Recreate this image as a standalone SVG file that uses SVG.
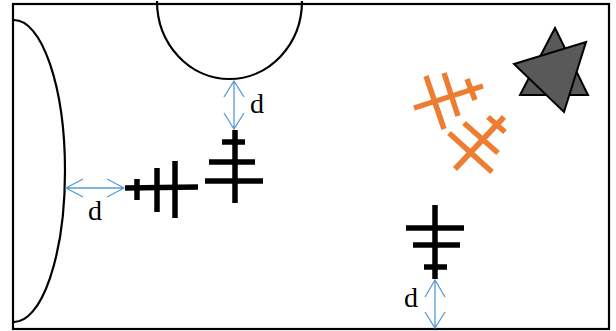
<svg xmlns="http://www.w3.org/2000/svg" width="616" height="331" viewBox="0 0 616 331">
<style>
.frame{fill:none;stroke:#000;stroke-width:2.2}
.bar{stroke:#000;stroke-width:5.5;stroke-linecap:butt}
.obar{stroke:#ED7D31;stroke-width:5.5;stroke-linecap:butt}
.dim{fill:none;stroke:#5B9BD5;stroke-width:1.3}
.tri{fill:#595959;stroke:#000;stroke-width:2;stroke-linejoin:miter}
.lbl{font-family:"Liberation Serif",serif;font-size:28px;fill:#000}
</style>
<rect width="616" height="331" fill="#fff"/>
<g id="field">
<rect class="frame" x="13" y="4" width="596" height="325"/>
<path class="frame" d="M14,20 A51,151 0 0 1 14,322"/>
<path class="frame" d="M157,1 A72.5,78 0 0 0 302,1"/>
</g>
<g id="connectors">
<g id="dim-top">
<path class="dim" d="M234,81 L234,129 M224,97 L234,81 L244,97 M224,113 L234,129 L244,113"/>
<text class="lbl" x="250" y="113">d</text>
</g>
<g id="dim-left">
<path class="dim" d="M66,188 L124,188 M83,179 L66,188 L83,197 M107,179 L124,188 L107,197"/>
<text class="lbl" x="88" y="220">d</text>
</g>
<g id="dim-bottom">
<path class="dim" d="M435,280 L435,328 M425,297 L435,280 L445,297 M425,312 L435,328 L445,312"/>
<text class="lbl" x="404" y="307">d</text>
</g>
</g>
<g id="cross-left">
<line class="bar" x1="125" y1="188" x2="198" y2="187"/>
<line class="bar" x1="137" y1="179" x2="137" y2="200"/>
<line class="bar" x1="157" y1="168" x2="157" y2="212"/>
<line class="bar" x1="175" y1="161" x2="175" y2="218"/>
</g>
<g id="cross-top">
<line class="bar" x1="235" y1="130" x2="235" y2="203"/>
<line class="bar" x1="222" y1="142" x2="245" y2="142"/>
<line class="bar" x1="209" y1="162" x2="255" y2="162"/>
<line class="bar" x1="205" y1="181" x2="263" y2="181"/>
</g>
<g id="cross-bottom">
<line class="bar" x1="435" y1="205" x2="435" y2="279"/>
<line class="bar" x1="406" y1="228" x2="464" y2="228"/>
<line class="bar" x1="413" y1="245" x2="460" y2="245"/>
<line class="bar" x1="424" y1="267" x2="447" y2="267"/>
</g>
<g id="orange-cross-1">
<line class="obar" x1="414" y1="108" x2="483" y2="86"/>
<line class="obar" x1="426" y1="76" x2="444" y2="129"/>
<line class="obar" x1="444" y1="73" x2="458" y2="116"/>
<line class="obar" x1="467" y1="79" x2="475" y2="100"/>
</g>
<g id="orange-cross-2">
<line class="obar" x1="455" y1="169" x2="504" y2="117"/>
<line class="obar" x1="449" y1="133" x2="492" y2="172"/>
<line class="obar" x1="464" y1="123" x2="498" y2="153"/>
<line class="obar" x1="488" y1="117" x2="505" y2="132"/>
</g>
<g id="triangles">
<polygon class="tri" points="555,28 520,95 588,95"/>
<polygon class="tri" points="514,64 586,42 564,112"/>
</g>
</svg>
